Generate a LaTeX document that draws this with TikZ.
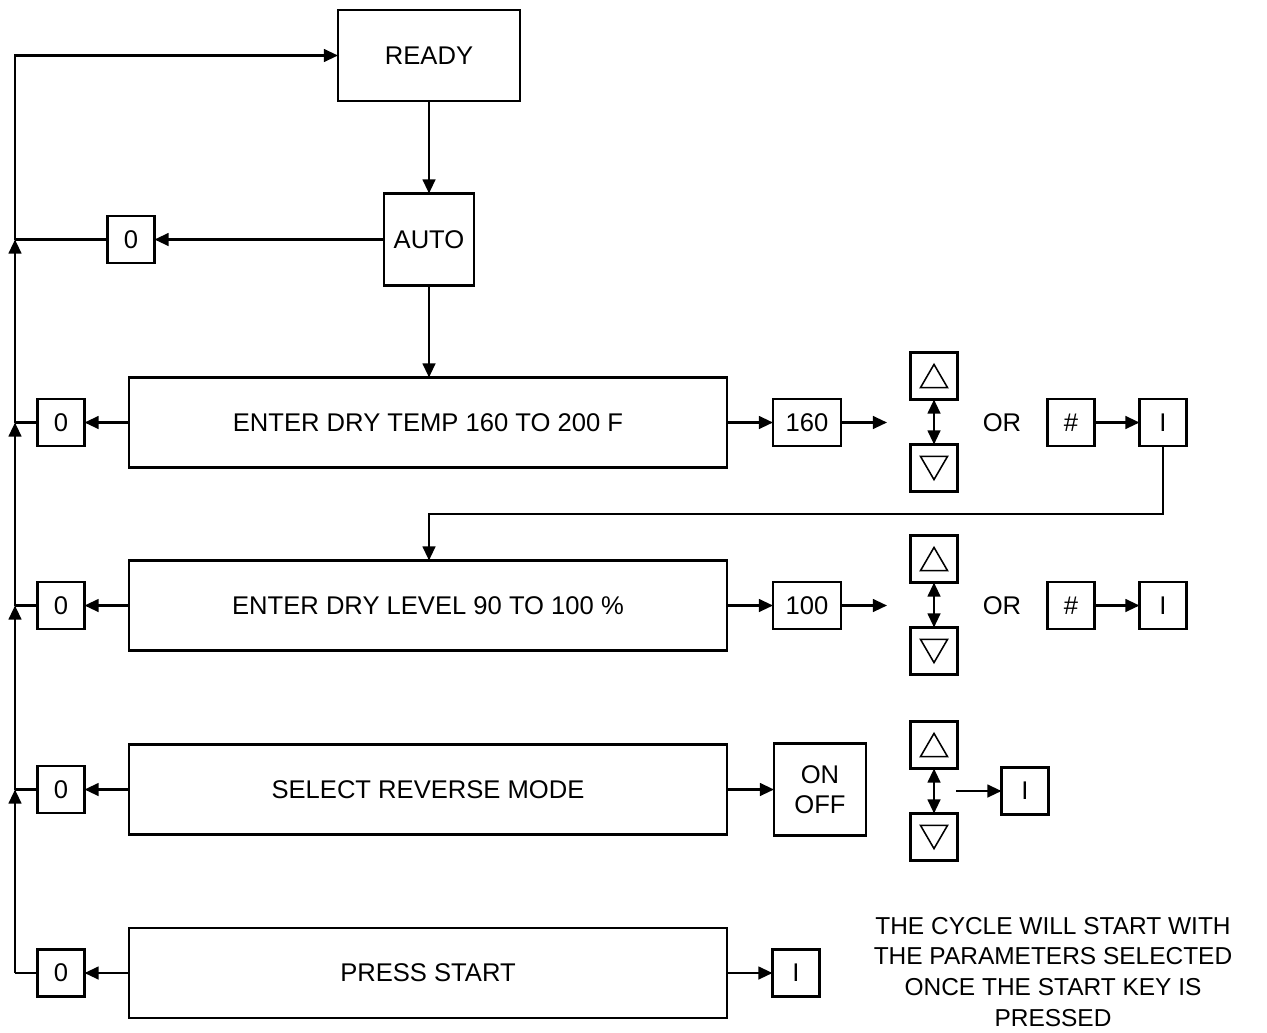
\documentclass[tikz,border=0pt]{standalone}
\usepackage{fontspec}
\setmainfont{Liberation Sans}
\usetikzlibrary{arrows.meta,positioning,calc}

\begin{document}
\begin{tikzpicture}[x=0.025cm,y=-0.025cm,
  line width=1.6pt,
  >={Triangle[length=10pt,width=9pt]},
  box/.style={draw,line width=1.6pt,inner sep=0pt,outer sep=0pt,
    align=center,font=\fontsize{18.2}{21.5}\selectfont},
  key/.style={box,minimum width=1.175cm,minimum height=1.175cm},
  wide/.style={box,minimum width=14.95cm,minimum height=2.25cm},
  tri/.style={line width=1.1pt,line join=miter},
  upkey/.style={key,path picture={
    \draw[tri] ($(path picture bounding box.center)+(-0.3375cm,-0.29cm)$)
      -- ($(path picture bounding box.center)+(0.3375cm,-0.29cm)$)
      -- ($(path picture bounding box.center)+(0,0.29cm)$) -- cycle;}},
  dnkey/.style={key,path picture={
    \draw[tri] ($(path picture bounding box.center)+(-0.3375cm,0.29cm)$)
      -- ($(path picture bounding box.center)+(0.3375cm,0.29cm)$)
      -- ($(path picture bounding box.center)+(0,-0.29cm)$) -- cycle;}},
  note/.style={align=center,font=\fontsize{17.4}{22}\selectfont,inner sep=0pt}
]
\useasboundingbox (0,0) rectangle (1267,1032);

% top of the loop
\node[box,minimum width=4.55cm,minimum height=2.275cm] (ready) at (429,55.5) {READY};
\node[box,minimum width=2.25cm,minimum height=2.3cm] (auto) at (429,239.5) {AUTO};
\node[key] (autozero) at (131,239.5) {0};

% dry temperature
\node[wide] (temp) at (428,422.5) {ENTER DRY TEMP 160 TO 200 F};
\node[key] (tempzero) at (61,422.5) {0};
\node[key,minimum width=1.7cm] (tempval) at (807,422.5) {160};
\node[upkey] (tempup) at (934,376) {};
\node[dnkey] (tempdn) at (934,468) {};
\node[note,font=\fontsize{18.2}{22}\selectfont] (tempor) at (1002,422.5) {OR};
\node[key] (temphash) at (1071,422.5) {\#};
\node[key] (tempok) at (1163,422.5) {I};
\coordinate (tempend) at (887,422.5);

% dry level
\node[wide] (level) at (428,605.5) {ENTER DRY LEVEL 90 TO 100 \%};
\node[key] (levelzero) at (61,605.5) {0};
\node[key,minimum width=1.7cm] (levelval) at (807,605.5) {100};
\node[upkey] (levelup) at (934,559) {};
\node[dnkey] (leveldn) at (934,651) {};
\node[note,font=\fontsize{18.2}{22}\selectfont] (levelor) at (1002,605.5) {OR};
\node[key] (levelhash) at (1071,605.5) {\#};
\node[key] (levelok) at (1163,605.5) {I};
\coordinate (levelend) at (887,605.5);

% reverse mode
\node[wide] (rev) at (428,789.5) {SELECT REVERSE MODE};
\node[key] (revzero) at (61,789.5) {0};
\node[box,minimum width=2.3cm,minimum height=2.3cm] (revval) at (820,789.5) {ON\\OFF};
\node[upkey] (revup) at (934,745) {};
\node[dnkey] (revdn) at (934,837) {};
\node[key] (revok) at (1025,791) {I};
\coordinate (revmid) at (956,791);

% start
\node[wide] (start) at (428,973) {PRESS START};
\node[key] (startzero) at (61,973) {0};
\node[key] (startok) at (796,973) {I};
\node[note] (startnote) at (1053,972) {THE CYCLE WILL START WITH\\THE PARAMETERS SELECTED\\ONCE THE START KEY IS\\PRESSED};

% rail on the left
\coordinate (rail0) at (15,239.5);
\coordinate (rail1) at (15,422.5);
\coordinate (rail2) at (15,605.5);
\coordinate (rail3) at (15,789.5);
\coordinate (rail4) at (15,973);

\draw[->] (ready) -- (auto);
\draw[->] (auto) -- (autozero);
\draw (autozero) -- (rail0);
\draw[->] (rail0) |- (ready.west);
\draw[->] (auto.south) -- (auto.south |- temp.north);

\foreach \row/\n in {temp/1,level/2,rev/3,start/4}{
  \draw[->] (\row) -- (\row zero);
  \draw (\row zero) -- (rail\n);
}
\foreach \lo/\hi in {1/0,2/1,3/2,4/3}
  \draw[->] (rail\lo) -- (rail\hi);

\draw[->] (temp) -- (tempval);
\draw[->] (tempval) -- (tempend);
\draw[<->] (tempup) -- (tempdn);
\draw[->] (temphash) -- (tempok);
\draw[->] (tempok.south) |- (1163,514) -| (auto.south |- level.north);

\draw[->] (level) -- (levelval);
\draw[->] (levelval) -- (levelend);
\draw[<->] (levelup) -- (leveldn);
\draw[->] (levelhash) -- (levelok);

\draw[->] (rev) -- (revval);
\draw[<->] (revup) -- (revdn);
\draw[->] (revmid) -- (revok);

\draw[->] (start) -- (startok);
\end{tikzpicture}
\end{document}
